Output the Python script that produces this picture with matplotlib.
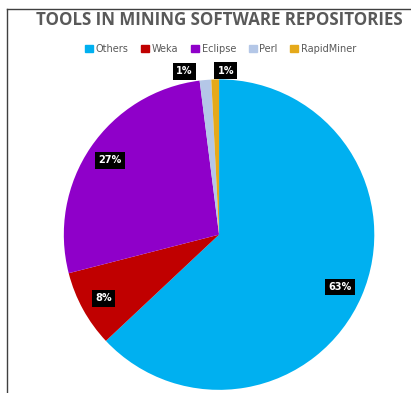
"""Pie chart: tools in mining software repositories."""

import matplotlib.pyplot as plt
import numpy as np
from matplotlib.lines import Line2D

tools = ["Others", "Weka", "Eclipse", "Perl", "RapidMiner"]
shares = [63, 8, 27, 1.2, 0.8]
colors = ["#00B0F0", "#C00000", "#8F00C9", "#B4C7E7", "#E5A91A"]


def draw():
    fig = plt.figure(figsize=(4.11, 3.93), dpi=100)
    ax = fig.add_axes([0.153, 0.008, 0.76, 0.79])

    wedges, _ = ax.pie(shares, colors=colors, startangle=90, counterclock=False,
                       wedgeprops=dict(edgecolor="none"))
    ax.set_xlim(-1, 1)
    ax.set_ylim(-1, 1)
    ax.set_aspect("equal")

    # labels: black boxes, small slices pushed out of the pie
    for w, v in zip(wedges, shares):
        mid = np.deg2rad((w.theta1 + w.theta2) / 2)
        if v < 5:
            r, dx = 1.055, (-0.13 if v > 1 else 0.07)
        else:
            r, dx = 0.85, 0.0
        ax.text(r * np.cos(mid) + dx, r * np.sin(mid), f"{v:.0f}%", color="white",
                fontsize=7, fontweight="bold", ha="center", va="center",
                bbox=dict(boxstyle="square,pad=0.35", fc="black", ec="none"))

    fig.text(0.533, 0.95, "TOOLS IN MINING SOFTWARE REPOSITORIES", ha="center", va="center",
             fontsize=12.2, fontweight="bold", color="#595959", family="Open Sans")

    handles = [plt.Rectangle((0, 0), 1, 1, color=c) for c in colors]
    fig.legend(handles, tools, loc="center", bbox_to_anchor=(0.537, 0.875), ncol=5,
               frameon=False, fontsize=7, handlelength=0.8, handleheight=0.8,
               handletextpad=0.3, columnspacing=1.3, labelcolor="#595959")

    # chart frame (left and top edges visible)
    fig.add_artist(Line2D([0.017, 0.017], [0.0, 0.976], color="#404040", lw=1))
    fig.add_artist(Line2D([0.017, 1.0], [0.976, 0.976], color="#404040", lw=1))

    fig.savefig("out.png", dpi=100)


if __name__ == "__main__":
    draw()
